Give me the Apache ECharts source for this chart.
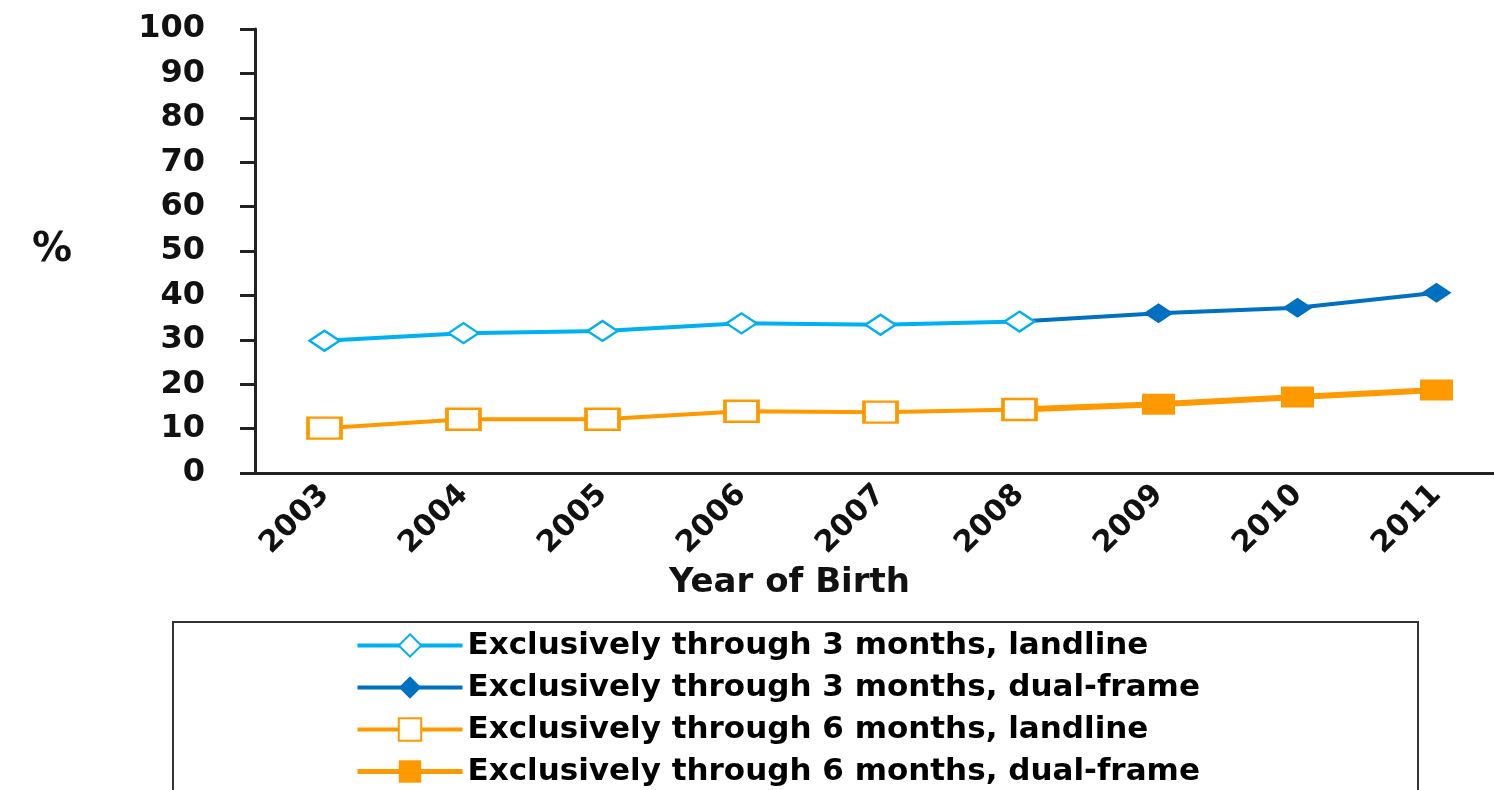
<!DOCTYPE html>
<html>
<head>
<meta charset="utf-8">
<script src="https://cdn.jsdelivr.net/npm/echarts@6/dist/echarts.min.js"></script>
<style>
  html, body { margin: 0; padding: 0; background: #ffffff; }
  #chart { width: 1494px; height: 790px; }
</style>
</head>
<body>
<div id="chart"></div>
<script>
// Birth years on the horizontal axis
const years = ['2003', '2004', '2005', '2006', '2007', '2008', '2009', '2010', '2011'];

// Percent breastfed exclusively through 3 months
const excl3Landline  = [29.8, 31.5, 32.0, 33.7, 33.4, 34.1, null, null, null];
const excl3DualFrame = [null, null, null, null, null, 34.1, 36.0, 37.2, 40.6];

// Percent breastfed exclusively through 6 months
const excl6Landline  = [10.1, 12.1, 12.1, 13.9, 13.7, 14.3, null, null, null];
const excl6DualFrame = [null, null, null, null, null, 14.3, 15.5, 17.1, 18.7];

const seriesNames = [
  'Exclusively through 3 months, landline',
  'Exclusively through 3 months, dual-frame',
  'Exclusively through 6 months, landline',
  'Exclusively through 6 months, dual-frame'
];

const LIGHT_BLUE = '#00B0F0';
const DARK_BLUE = '#0070C0';
const ORANGE = '#FF9900';
const FONT = 'DejaVu Sans';

const chart = echarts.init(document.getElementById('chart'), null, { renderer: 'canvas' });

chart.setOption({
  animation: false,
  backgroundColor: '#ffffff',
  grid: {
    left: 255, top: 29, width: 1251, height: 444,
    containLabel: false, outerBoundsMode: 'none'
  },
  xAxis: {
    type: 'category',
    data: years,
    boundaryGap: true,
    axisLine: { lineStyle: { color: '#222222', width: 3 } },
    axisTick: { alignWithLabel: true, length: 6, lineStyle: { color: '#222222', width: 2 } },
    axisLabel: {
      rotate: 45, margin: 17, color: '#111111',
      fontFamily: FONT, fontWeight: 'bold', fontSize: 30
    },
    name: 'Year of Birth',
    nameLocation: 'middle',
    nameGap: 93,
    nameTextStyle: {
      color: '#111111', fontFamily: FONT, fontWeight: 'bold', fontSize: 34,
      padding: [0, 182, 0, 0]
    },
    splitLine: { show: false }
  },
  yAxis: {
    type: 'value',
    min: 0, max: 100, interval: 10,
    axisLine: { show: true, lineStyle: { color: '#222222', width: 3 } },
    axisTick: { show: true, length: 15, lineStyle: { color: '#222222', width: 3 } },
    axisLabel: {
      margin: 50, color: '#111111',
      fontFamily: FONT, fontWeight: 'bold', fontSize: 32
    },
    splitLine: { show: false },
    name: '%',
    nameLocation: 'middle',
    nameRotate: 0,
    nameGap: 183,
    nameTextStyle: { color: '#111111', fontFamily: FONT, fontWeight: 'bold', fontSize: 40 }
  },
  legend: {
    orient: 'vertical',
    left: 355, top: 630,
    width: 1000, height: 300,
    padding: 0,
    itemWidth: 105, itemHeight: 28, itemGap: 11,
    lineStyle: { width: 4 },
    data: seriesNames.map((name, i) => ({
      name,
      lineStyle: { width: i === 3 ? 5 : 4 }
    })),
    textStyle: {
      color: '#000000', fontFamily: FONT, fontWeight: 'bold', fontSize: 31, lineHeight: 28
    }
  },
  graphic: [{
    type: 'rect',
    shape: { x: 173, y: 622, width: 1245, height: 200 },
    style: { fill: 'none', stroke: '#333333', lineWidth: 2 },
    z: -1
  }],
  series: [
    {
      name: seriesNames[1], type: 'line', data: excl3DualFrame, z: 2,
      symbol: 'diamond', symbolSize: [30, 20],
      itemStyle: { color: DARK_BLUE },
      lineStyle: { color: DARK_BLUE, width: 4 }
    },
    {
      name: seriesNames[0], type: 'line', data: excl3Landline, z: 3,
      symbol: 'diamond', symbolSize: [30, 20], showAllSymbol: true,
      itemStyle: { color: '#ffffff', borderColor: LIGHT_BLUE, borderWidth: 2.5 },
      lineStyle: { color: LIGHT_BLUE, width: 4 }
    },
    {
      name: seriesNames[3], type: 'line', data: excl6DualFrame, z: 2,
      symbol: 'rect', symbolSize: [33, 21],
      itemStyle: { color: ORANGE },
      lineStyle: { color: ORANGE, width: 6 }
    },
    {
      name: seriesNames[2], type: 'line', data: excl6Landline, z: 3,
      symbol: 'rect', symbolSize: [33, 21],
      itemStyle: { color: '#ffffff', borderColor: ORANGE, borderWidth: 3 },
      lineStyle: { color: ORANGE, width: 4 }
    }
  ]
});
</script>
</body>
</html>
